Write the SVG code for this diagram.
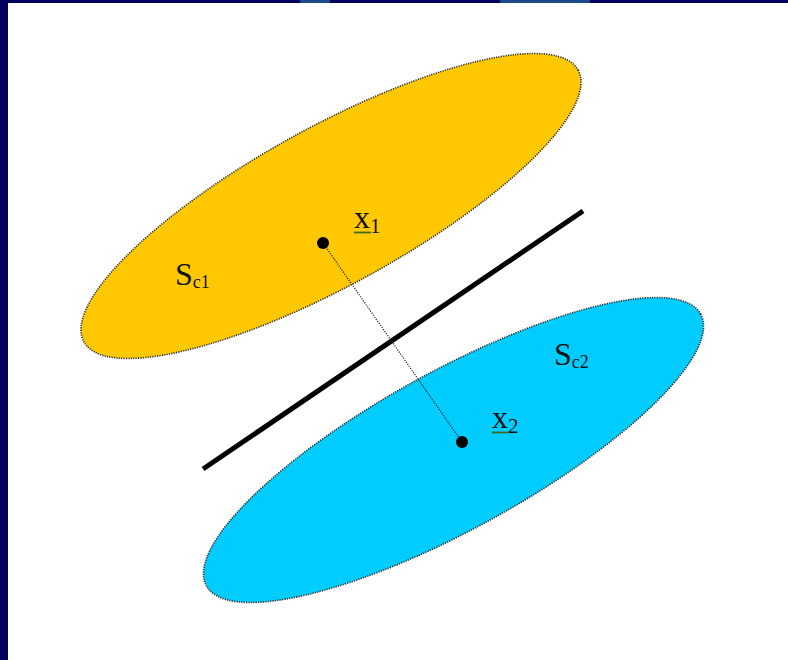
<svg xmlns="http://www.w3.org/2000/svg" width="788" height="660" viewBox="0 0 788 660">
<style>
.region{stroke:#2a2a2a;stroke-width:1.6;stroke-dasharray:1.2 1.2}
.lbl{font-family:"Liberation Serif","Times New Roman",serif;fill:#111}
.main{font-size:32px}
.sub{font-size:18px}
.subx{font-size:21px}
.ul{stroke:#3d6b1f;stroke-width:1.8}
.pt{fill:#000}
</style>
<rect x="0" y="0" width="788" height="660" fill="#ffffff"/>
<rect x="0" y="0" width="788" height="3" fill="#00005e"/>
<rect x="300" y="0" width="30" height="3" fill="#1a4a8a"/>
<rect x="500" y="0" width="90" height="3" fill="#1a4a8a"/>
<rect x="0" y="0" width="8" height="660" fill="#00005e"/>
<g id="Sc1">
<ellipse class="region" cx="331" cy="206" rx="282" ry="79" transform="rotate(-28.8 331 206)" fill="#ffc800"/>
<text class="lbl main" x="175" y="285">S<tspan class="sub" dy="3">c1</tspan></text>
</g>
<g id="Sc2">
<ellipse class="region" cx="453.5" cy="450" rx="282" ry="79" transform="rotate(-28.8 453.5 450)" fill="#00ccff"/>
<text class="lbl main" x="554" y="365">S<tspan class="sub" dy="3">c2</tspan></text>
</g>
<g id="separator">
<line x1="203" y1="469" x2="583" y2="211" stroke="#000" stroke-width="5"/>
</g>
<g id="connectors">
<line x1="323" y1="243" x2="462" y2="442" stroke="#222" stroke-width="1.2" stroke-dasharray="1.2 1.3"/>
</g>
<g id="x1">
<circle class="pt" cx="323" cy="243" r="6"/>
<text class="lbl main" x="354" y="228">x<tspan class="subx" dy="5">1</tspan></text>
<line class="ul" x1="354" y1="232.5" x2="371" y2="232.5"/>
</g>
<g id="x2">
<circle class="pt" cx="462" cy="442" r="6"/>
<text class="lbl main" x="492" y="428">x<tspan class="subx" dy="5">2</tspan></text>
<line class="ul" x1="492" y1="432.5" x2="509" y2="432.5"/>
</g>
</svg>
